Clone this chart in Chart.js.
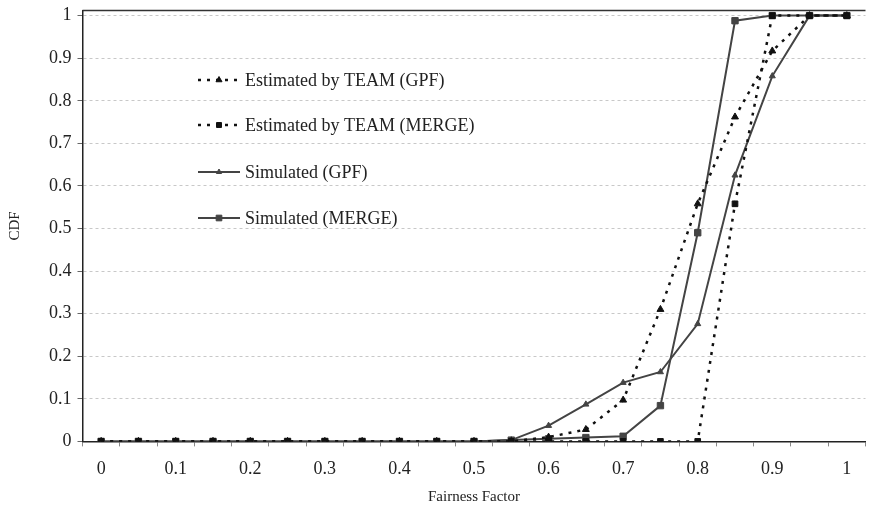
<!DOCTYPE html>
<html>
<head>
<meta charset="utf-8">
<script src="https://cdn.jsdelivr.net/npm/chart.js@4.4.0/dist/chart.umd.min.js"></script>
<style>
  html, body { margin: 0; padding: 0; background: #fff; overflow: hidden; }
  #wrap { width: 871px; height: 510px; position: relative; }
</style>
</head>
<body>
<div id="wrap"><canvas id="grafico"></canvas></div>
<script>
// Datos
const fairness = ['0', '0.05', '0.1', '0.15', '0.2', '0.25', '0.3', '0.35', '0.4', '0.45', '0.5',
                  '0.55', '0.6', '0.65', '0.7', '0.75', '0.8', '0.85', '0.9', '0.95', '1'];
const xTickLabels = ['0', '', '0.1', '', '0.2', '', '0.3', '', '0.4', '', '0.5',
                     '', '0.6', '', '0.7', '', '0.8', '', '0.9', '', '1'];
const yTickValues = [0, 0.1, 0.2, 0.3, 0.4, 0.5, 0.6, 0.7, 0.8, 0.9, 1];

const estGpf   = [0, 0, 0, 0, 0, 0, 0, 0, 0, 0, 0, 0, 0.010, 0.028, 0.097, 0.310, 0.558, 0.762, 0.917, 1, 1];
const estMerge = [0, 0, 0, 0, 0, 0, 0, 0, 0, 0, 0, 0, 0, 0, 0, 0, 0, 0.558, 1, 1, 1];
const simGpf   = [0, 0, 0, 0, 0, 0, 0, 0, 0, 0, 0, 0.003, 0.037, 0.087, 0.138, 0.163, 0.276, 0.625, 0.858, 1, 1];
const simMerge = [0, 0, 0, 0, 0, 0, 0, 0, 0, 0, 0, 0.003, 0.006, 0.009, 0.012, 0.084, 0.490, 0.988, 1, 1, 1];

const nombres = ['Estimated by TEAM (GPF)', 'Estimated by TEAM (MERGE)', 'Simulated (GPF)', 'Simulated (MERGE)'];

const FUENTE = "'Liberation Serif', 'DejaVu Serif', serif";

// Leyenda dibujada dentro del area del grafico
const leyendaInterna = {
    id: 'leyendaInterna',
    afterDatasetsDraw(chart) {
        const ctx = chart.ctx;
        const filas = [80, 125, 172, 218];
        const x0 = 198, x1 = 240;
        chart.data.datasets.forEach((ds, i) => {
            const y = filas[i];
            ctx.save();
            ctx.strokeStyle = ds.borderColor;
            ctx.lineWidth = ds.borderWidth;
            ctx.setLineDash(ds.borderDash || []);
            ctx.beginPath();
            ctx.moveTo(x0, y);
            ctx.lineTo(x1, y);
            ctx.stroke();
            ctx.setLineDash([]);
            ctx.fillStyle = ds.pointBackgroundColor;
            ctx.lineWidth = 1;
            Chart.helpers.drawPoint(ctx, {
                pointStyle: ds.pointStyle,
                radius: ds.pointRadius - 0.5,
                borderWidth: 1
            }, (x0 + x1) / 2, y);
            ctx.fillStyle = '#222';
            ctx.font = '18px ' + FUENTE;
            ctx.textBaseline = 'middle';
            ctx.fillText(nombres[i], 245, y + 1);
            ctx.restore();
        });
    }
};

// Linea superior del marco
const bordeSuperior = {
    id: 'bordeSuperior',
    afterDraw(chart) {
        const { ctx, chartArea } = chart;
        ctx.save();
        ctx.strokeStyle = '#333';
        ctx.lineWidth = 1.5;
        ctx.beginPath();
        ctx.moveTo(chartArea.left, chartArea.top);
        ctx.lineTo(chartArea.right, chartArea.top);
        ctx.stroke();
        ctx.restore();
    }
};

function serie(label, data, color, dash, estilo, radio, ancho) {
    return {
        label: label,
        data: data,
        borderColor: color,
        backgroundColor: color,
        pointBackgroundColor: color,
        pointBorderColor: color,
        pointBorderWidth: 1,
        borderWidth: ancho,
        borderDash: dash,
        pointStyle: estilo,
        pointRadius: radio,
        pointHoverRadius: radio,
        tension: 0,
        fill: false
    };
}

const ctx = document.getElementById('grafico');
new Chart(ctx, {
    type: 'line',
    data: {
        labels: fairness,
        datasets: [
            serie(nombres[0], estGpf, '#111', [3, 6], 'triangle', 4, 2.5),
            serie(nombres[1], estMerge, '#111', [3, 6], 'rect', 4, 2.5),
            serie(nombres[2], simGpf, '#444', [], 'triangle', 3.5, 2),
            serie(nombres[3], simMerge, '#444', [], 'rect', 4.5, 2)
        ]
    },
    options: {
        responsive: true,
        maintainAspectRatio: false,
        animation: false,
        layout: { padding: { left: 6, right: 0, top: 0, bottom: 4 } },
        plugins: {
            legend: { display: false },
            tooltip: { enabled: false }
        },
        scales: {
            x: {
                type: 'category',
                offset: true,
                grid: {
                    offset: true,
                    drawOnChartArea: false,
                    tickLength: 5,
                    tickColor: '#888',
                    tickWidth: 1
                },
                border: { color: '#222', width: 1.5 },
                ticks: {
                    autoSkip: false,
                    maxRotation: 0,
                    padding: 12,
                    color: '#222',
                    font: { family: FUENTE, size: 18 },
                    callback: (v, i) => xTickLabels[i]
                },
                title: {
                    display: true,
                    text: 'Fairness Factor',
                    color: '#222',
                    font: { family: FUENTE, size: 15 },
                    padding: { top: -4, bottom: 0 }
                }
            },
            y: {
                min: 0,
                max: 1.012,
                afterBuildTicks: (scale) => {
                    scale.ticks = yTickValues.map(v => ({ value: v }));
                },
                grid: {
                    color: '#c8c8c8',
                    lineWidth: 1,
                    tickLength: 5,
                    tickColor: '#666'
                },
                border: { color: '#222', width: 1.5, dash: [3, 3] },
                ticks: {
                    padding: 6,
                    color: '#222',
                    font: { family: FUENTE, size: 18, lineHeight: 0.5 },
                    callback: (v) => String(Math.round(v * 10) / 10)
                },
                title: {
                    display: true,
                    text: 'CDF',
                    color: '#222',
                    font: { family: FUENTE, size: 15 },
                    padding: { top: 0, bottom: 19 }
                }
            }
        }
    },
    plugins: [leyendaInterna, bordeSuperior]
});
</script>
</body>
</html>
